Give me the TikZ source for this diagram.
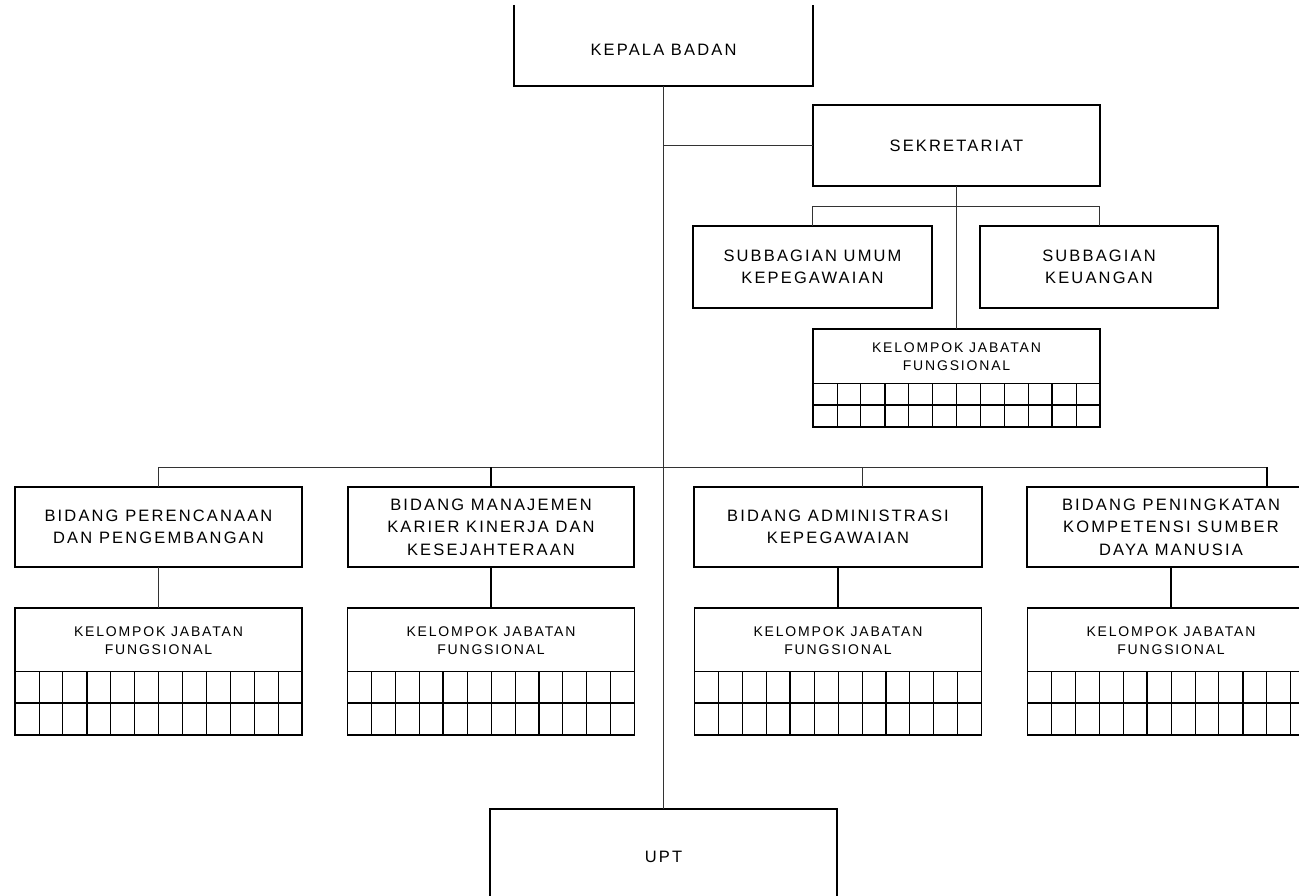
\documentclass[tikz,border=0pt]{standalone}
\usepackage{fontspec}
\newfontfamily\orgfont{Liberation Sans}[LetterSpace=13]
\newfontfamily\grpfont{Liberation Sans}[LetterSpace=13]

\tikzset{
  unitbox/.style={draw, line width=1.3pt, inner sep=0pt, outer sep=0pt, align=center,
    font=\orgfont\fontsize{16.5}{22.5}\selectfont},
  openbox/.style={inner sep=0pt, outer sep=0pt},
  openedge/.style={line width=1.3pt},
  unitlabel/.style={inner sep=0pt, align=center, font=\orgfont\fontsize{16.5}{22.5}\selectfont},
  groupbox/.style={draw, line width=1.3pt, minimum width=287pt, inner sep=0pt, outer sep=0pt},
  grouptext/.style={inner sep=0pt, align=center, font=\grpfont\fontsize{14}{18}\selectfont},
  link/.style={line width=0.8pt, draw=black!80},
  boldlink/.style={line width=1.6pt, draw=black},
  gridthin/.style={line width=0.7pt},
  gridthick/.style={line width=1.5pt},
}

% functional-group box: name, centre x, top y, text band, row height, heavy columns
\newcommand\jabgroup[6]{%
  \node[groupbox, minimum height={#4+2*#5}, anchor=north] (#1) at (#2,#3) {};
  \node[grouptext] (#1-lbl) at ([yshift={-(#4)/2-1}]#1.north) {KELOMPOK JABATAN\\FUNGSIONAL};
  \begin{scope}[shift={(#1.north west)}]
    \draw[gridthin] (0,#4) -- (287,#4);
    \foreach \c in {1,...,11}
      \draw[gridthin] ({\c*287/12},#4) -- ({\c*287/12},#4+2*#5);
    \foreach \c in {#6}
      \draw[gridthick] ({\c*287/12},#4) -- ({\c*287/12},#4+2*#5);
    \draw[gridthick] (0,#4+#5) -- (287,#4+#5);
  \end{scope}
  \node[groupbox, minimum height={#4+2*#5}, anchor=north] at (#2,#3) {};
}

\begin{document}
\begin{tikzpicture}[x=1pt, y=-1pt]
  \useasboundingbox (0,0) rectangle (1299,896);
  \clip (0,0) rectangle (1299,896);
  \fill[white] (0,0) rectangle (1299,896);

  % head of office (top edge runs off the page)
  \node[openbox, minimum width=299pt, minimum height=81pt] (kepala) at (663.5,45.5) {};
  \draw[openedge] (kepala.north west) -- (kepala.south west) -- (kepala.south east) -- (kepala.north east);
  \node[unitlabel] (kepalalbl) at (663.5,50) {KEPALA BADAN};

  % secretariat and its subdivisions
  \node[unitbox, minimum width=287pt, minimum height=81pt] (sek) at (956.5,145.5) {SEKRETARIAT};
  \node[unitbox, minimum width=239pt, minimum height=82pt] (subumum) at (812.5,267) {SUBBAGIAN UMUM\\KEPEGAWAIAN};
  \node[unitbox, minimum width=238pt, minimum height=82pt] (subkeu) at (1099,267) {SUBBAGIAN\\KEUANGAN};
  \jabgroup{kjfS}{956.5}{329}{54}{22}{3,10}

  % divisions
  \node[unitbox, minimum width=287pt, minimum height=80pt] (perenc) at (158.5,527) {BIDANG PERENCANAAN\\DAN PENGEMBANGAN};
  \node[unitbox, minimum width=286pt, minimum height=80pt] (manaj) at (491,527) {BIDANG MANAJEMEN\\KARIER KINERJA DAN\\KESEJAHTERAAN};
  \node[unitbox, minimum width=288pt, minimum height=80pt] (admin) at (838,527) {BIDANG ADMINISTRASI\\KEPEGAWAIAN};
  \node[unitbox, minimum width=288pt, minimum height=80pt] (pening) at (1171,527) {BIDANG PENINGKATAN\\KOMPETENSI SUMBER\\DAYA MANUSIA};

  \jabgroup{kjfP}{158.5}{608}{63}{32}{3,7}
  \jabgroup{kjfM}{491}{608}{63}{32}{4,8}
  \jabgroup{kjfA}{838}{608}{63}{32}{4,8}
  \jabgroup{kjfK}{1171}{608}{63}{32}{1,5,9}

  % technical unit (bottom edge runs off the page)
  \node[openbox, minimum width=347pt, minimum height=96pt] (upt) at (663.5,857) {};
  \draw[openedge] (upt.south west) -- (upt.north west) -- (upt.north east) -- (upt.south east);
  \node[unitlabel] (uptlbl) at (663.5,857) {UPT};

  % connectors
  \coordinate (bus) at (663.5,467);
  \coordinate (sekbus) at (956.5,206);
  \coordinate (addrop) at ([xshift=24pt]admin.north);
  \coordinate (pkdrop) at ([xshift=96pt]pening.north);

  \draw[link] (kepala.south) -- (upt.north);
  \draw[link] (sek.west -| kepala.south) -- (sek.west);
  \draw[link] (sek.south) -- (kjfS.north);
  \draw[link] (subumum.north) -- (subumum.north |- sekbus) -- (subkeu.north |- sekbus) -- (subkeu.north);

  \draw[link] (perenc.north) -- (perenc.north |- bus) -- (pkdrop |- bus);
  \draw[boldlink] (manaj.north |- bus) -- (manaj.north);
  \draw[link] (addrop |- bus) -- (addrop);
  \draw[boldlink] (pkdrop |- bus) -- (pkdrop);

  \draw[link] (perenc.south) -- (kjfP.north);
  \draw[boldlink] (manaj.south) -- (kjfM.north);
  \draw[boldlink] (admin.south) -- (kjfA.north);
  \draw[boldlink] (pening.south) -- (kjfK.north);
\end{tikzpicture}
\end{document}
